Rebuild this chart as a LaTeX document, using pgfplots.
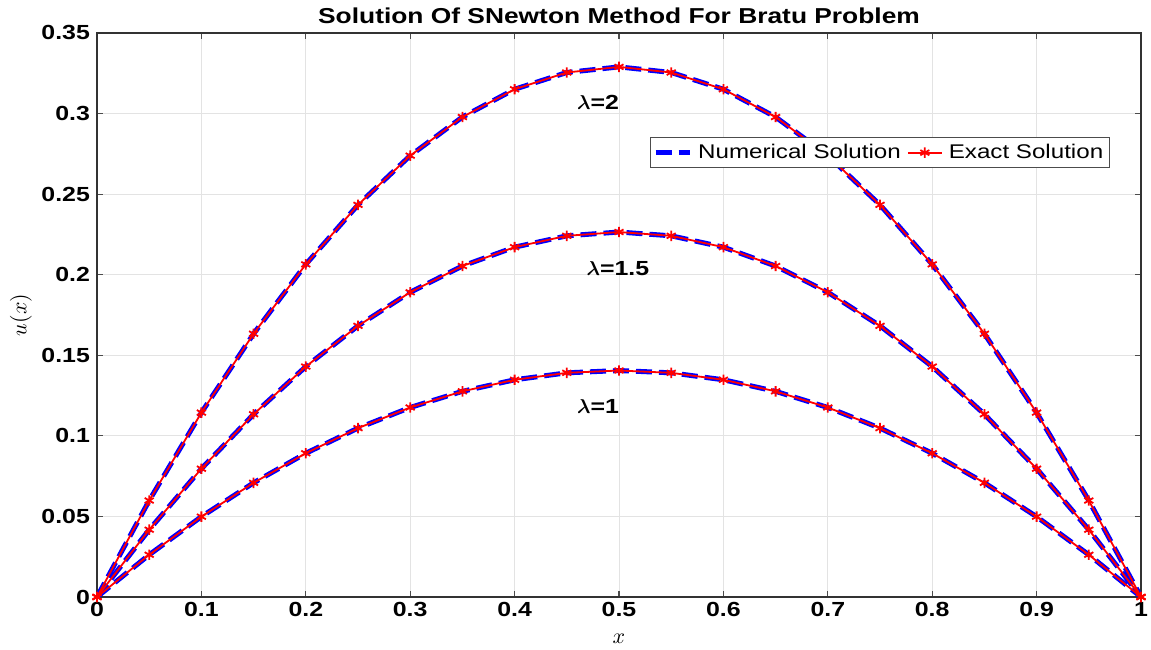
\documentclass[border=0pt]{standalone}
\usepackage{pgfplots}
\usepackage{pgfplotstable}
\usepackage{fontspec}
\usepackage{bm}
\pgfplotsset{compat=1.18}
\setmainfont[FakeStretch=1.22]{Liberation Sans}
\pgfplotstableread{
x     l1      l15     l2
0     0       0       0
0.05  0.02621 0.04176 0.05986
0.10  0.04985 0.07961 0.11441
0.15  0.07086 0.11340 0.16336
0.20  0.08919 0.14299 0.20642
0.25  0.10479 0.16826 0.24334
0.30  0.11761 0.18909 0.27388
0.35  0.12762 0.20539 0.29785
0.40  0.13479 0.21709 0.31509
0.45  0.13910 0.22413 0.32548
0.50  0.14054 0.22648 0.32896
0.55  0.13910 0.22413 0.32548
0.60  0.13479 0.21709 0.31509
0.65  0.12762 0.20539 0.29785
0.70  0.11761 0.18909 0.27388
0.75  0.10479 0.16826 0.24334
0.80  0.08919 0.14299 0.20642
0.85  0.07086 0.11340 0.16336
0.90  0.04985 0.07961 0.11441
0.95  0.02621 0.04176 0.05986
1.00  0       0       0
}\datatab
\begin{document}
\begin{tikzpicture}
\begin{axis}[
  scale only axis,
  width=522pt, height=282pt,
  xmin=0, xmax=1, ymin=0, ymax=0.35,
  xtick={0,0.1,...,1.01},
  ytick={0,0.05,...,0.351},
  /pgf/number format/assume math mode=true,
  /pgf/number format/fixed,
  /pgf/number format/precision=2,
  ticklabel style={font=\fontsize{10.2}{12}\selectfont\bfseries},
  xticklabel style={yshift=1pt},
  grid=major,
  major grid style={gray!22, line width=0.5pt},
  axis line style={black!80, line width=0.6pt},
  tick style={black!70, line width=0.6pt},
  major tick length=3pt,
  tick align=inside,
  title={\fontsize{10.8}{12}\selectfont\bfseries Solution Of SNewton Method For Bratu Problem},
  title style={yshift=-5pt},
  xlabel={$x$}, ylabel={$u(x)$},
  xlabel style={font=\fontsize{11}{12}\selectfont, yshift=-2pt},
  ylabel style={font=\fontsize{11}{12}\selectfont, yshift=-2pt},
  legend columns=2,
  legend style={at={(rel axis cs:0.5297,0.8156)}, anchor=north west,
    font=\fontsize{9.9}{11}\selectfont, draw=black!70, line width=0.6pt,
    inner sep=1.2pt, column sep=1pt},
  legend cell align=left,
]
\addplot[blue, line width=2.5pt, dash pattern=on 8pt off 3.5pt] table[x=x,y=l2]{\datatab};
\addlegendentry{Numerical Solution}
\addplot[blue, line width=2.5pt, dash pattern=on 8pt off 3.5pt, forget plot] table[x=x,y=l15]{\datatab};
\addplot[blue, line width=2.5pt, dash pattern=on 8pt off 3.5pt, forget plot] table[x=x,y=l1]{\datatab};
\addplot[red, line width=0.9pt, mark=asterisk, mark size=2.6pt, mark options={line width=0.9pt}] table[x=x,y=l2]{\datatab};
\addlegendentry{Exact Solution}
\addplot[red, line width=0.9pt, mark=asterisk, mark size=2.6pt, mark options={line width=0.9pt}, forget plot] table[x=x,y=l15]{\datatab};
\addplot[red, line width=0.9pt, mark=asterisk, mark size=2.6pt, mark options={line width=0.9pt}, forget plot] table[x=x,y=l1]{\datatab};
\node[font=\fontsize{10.2}{12}\selectfont\bfseries] at (axis cs:0.480,0.307) {$\bm{\lambda}$=2};
\node[font=\fontsize{10.2}{12}\selectfont\bfseries] at (axis cs:0.499,0.204) {$\bm{\lambda}$=1.5};
\node[font=\fontsize{10.2}{12}\selectfont\bfseries] at (axis cs:0.480,0.118) {$\bm{\lambda}$=1};
\end{axis}
\pgfresetboundingbox
\path ([shift={(-48.5pt,-26.5pt)}]current axis.south west) rectangle ([shift={(5pt,16.5pt)}]current axis.north east);
\end{tikzpicture}
\end{document}
